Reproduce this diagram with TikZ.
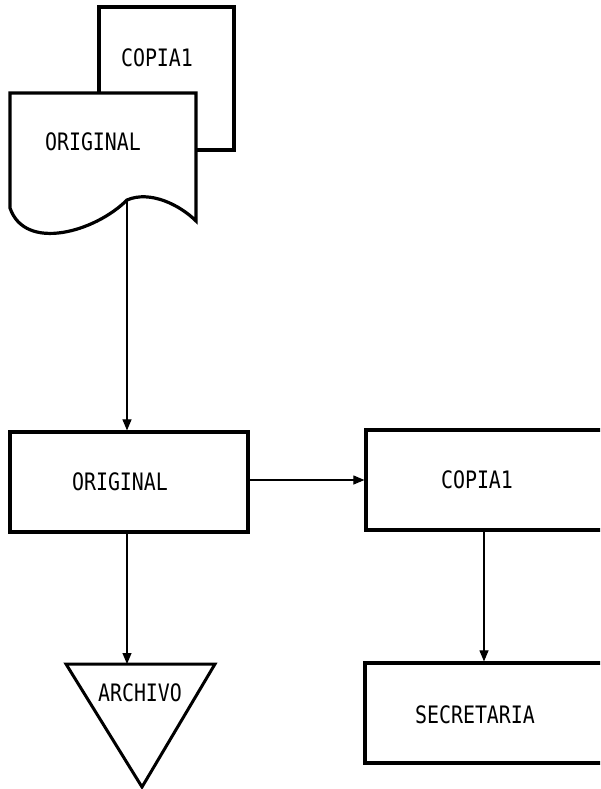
\documentclass[tikz,border=0pt]{standalone}
\usepackage{fontspec}
\newfontfamily\dotfont[FakeStretch=0.83]{DejaVu Sans Mono}
\usetikzlibrary{arrows.meta}
\begin{document}
\begin{tikzpicture}[x=1pt,y=-1pt,
  box/.style={draw, line width=3.2pt, inner sep=0pt},
  lbl/.style={font=\dotfont\fontsize{24}{24}\selectfont, inner sep=0pt},
  conn/.style={line width=1.1pt, -{Triangle[length=11pt,width=9pt]}}]
\useasboundingbox (0,0) rectangle (600,789);
\clip (0,0) rectangle (600,789);
% back copy document
\draw[line width=3.2pt] (99,93) -- (99,7) -- (234,7) -- (234,150) -- (196,150);
\node[lbl] (c1top) at (157,58) {COPIA1};
% front original document
\draw[line width=3.2pt, fill=white] (10,208) -- (10,93) -- (196,93) -- (196,221)
  .. controls (180,205) and (150,190) .. (127,200)
  .. controls (95,232) and (25,252) .. (10,208) -- cycle;
\coordinate (docout) at (127,200);
\node[lbl] (origtop) at (93,142) {ORIGINAL};
% ORIGINAL box
\node[box, minimum width=238pt, minimum height=100pt] (orig) at (129,482) {};
\node[lbl] (origt) at (120,482) {ORIGINAL};
% COPIA1 box
\node[box, minimum width=250pt, minimum height=100pt] (cop) at (491,480) {};
\node[lbl] (copt) at (477,480) {COPIA1};
% SECRETARIA box
\node[box, minimum width=250pt, minimum height=100pt] (sec) at (490,713) {};
\node[lbl] (sect) at (475,715) {SECRETARIA};
% ARCHIVO triangle
\draw[line width=3pt, line join=miter] (66,664) -- (215,664) -- (142,787) -- cycle;
\coordinate (archtop) at (127,664);
\node[lbl] (archt) at (140,693) {ARCHIVO};
% connectors
\draw[conn] (docout) -- (docout |- orig.north);
\draw[conn] (orig.east |- 0,480) -- (cop.west);
\coordinate (origbot) at (127,532);
\draw[conn] (origbot) -- (archtop);
\coordinate (copbot) at (484,530);
\draw[conn] (copbot) -- (copbot |- sec.north);
\end{tikzpicture}
\end{document}
